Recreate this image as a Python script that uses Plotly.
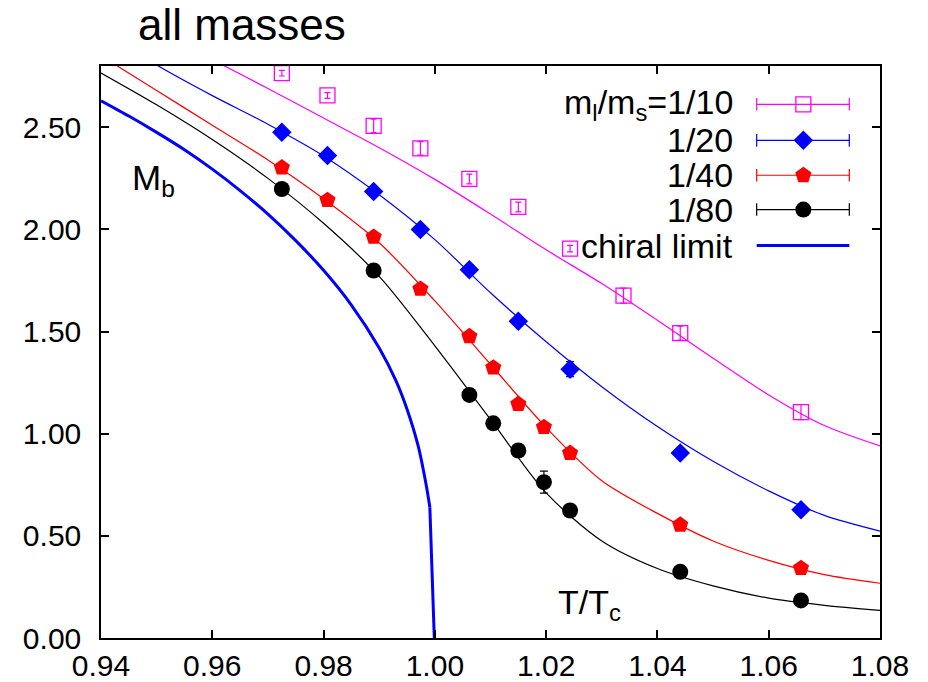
import plotly.graph_objects as go

# ---------------- data ----------------
T10 = [0.9725, 0.9807, 0.9890, 0.9974, 1.0062, 1.0150, 1.0243, 1.0339, 1.0441, 1.0658]
M10 = [2.765, 2.656, 2.507, 2.397, 2.247, 2.110, 1.906, 1.676, 1.492, 1.106]
E10 = [0.014, 0.014, 0.033, 0.033, 0.024, 0.024, 0.016, 0.037, 0.034, 0.037]

T20 = [0.9725, 0.9807, 0.9890, 0.9974, 1.0062, 1.0150, 1.0243, 1.0441, 1.0658]
M20 = [2.476, 2.362, 2.186, 2.000, 1.803, 1.551, 1.316, 0.905, 0.628]
E20 = [0.010, 0.020, 0.010, 0.015, 0.025, 0.020, 0.037, 0.010, 0.010]

T40 = [0.9725, 0.9807, 0.9890, 0.9974, 1.0062, 1.0105, 1.0150, 1.0196, 1.0243, 1.0441, 1.0658]
M40 = [2.303, 2.143, 1.963, 1.709, 1.477, 1.323, 1.145, 1.032, 0.905, 0.554, 0.342]
E40 = [0.010, 0.020, 0.010, 0.020, 0.010, 0.015, 0.010, 0.010, 0.010, 0.010, 0.010]

T80 = [0.9725, 0.9890, 1.0062, 1.0105, 1.0150, 1.0196, 1.0243, 1.0441, 1.0658]
M80 = [2.198, 1.799, 1.190, 1.051, 0.918, 0.763, 0.624, 0.324, 0.184]
E80 = [0.010, 0.010, 0.010, 0.010, 0.010, 0.054, 0.010, 0.010, 0.010]

# fit curves
TFIT = [0.94, 0.95, 0.96, 0.97, 0.98, 0.99, 1.00, 1.01, 1.02, 1.03, 1.04, 1.05, 1.06, 1.07, 1.08]
FIT10 = [3.10, 2.96, 2.83, 2.69, 2.545, 2.40, 2.245, 2.075, 1.90, 1.735, 1.555, 1.37, 1.19, 1.04, 0.94]
FIT20 = [2.98, 2.805, 2.655, 2.515, 2.36, 2.17, 1.95, 1.69, 1.45, 1.23, 1.035, 0.865, 0.72, 0.60, 0.523]
FIT40 = [2.85, 2.68, 2.51, 2.34, 2.15, 1.935, 1.65, 1.34, 1.03, 0.77, 0.61, 0.475, 0.38, 0.31, 0.268]
FIT80 = [2.766, 2.61, 2.44, 2.25, 2.03, 1.77, 1.43, 1.07, 0.71, 0.475, 0.34, 0.255, 0.195, 0.16, 0.135]

# chiral limit curve
TCH = [0.940, 0.945, 0.950, 0.955, 0.960, 0.965, 0.970, 0.975, 0.980, 0.985,
       0.990, 0.993, 0.995, 0.997, 0.9985, 0.9991]
MCH = [2.63, 2.555, 2.475, 2.39, 2.295, 2.19, 2.075, 1.945, 1.80, 1.63,
       1.42, 1.26, 1.12, 0.94, 0.74, 0.64]
TCH_END = [0.9991, 0.9999]
MCH_END = [0.64, 0.00]

XTICKS = [0.94, 0.96, 0.98, 1.00, 1.02, 1.04, 1.06, 1.08]
YTICKS = [0.0, 0.5, 1.0, 1.5, 2.0, 2.5]

LABELS = ["m<sub>l</sub>/m<sub>s</sub>=1/10", "1/20", "1/40", "1/80", "chiral limit"]

MAGENTA = "#ff00ff"
BLUE = "#0000ff"
RED = "#ff0000"
BLACK = "#000000"
FONT = "Liberation Sans, Arial, Helvetica, sans-serif"

fig = go.Figure()

# fit lines
for fit, col in [(FIT10, MAGENTA), (FIT20, BLUE), (FIT40, RED), (FIT80, BLACK)]:
    fig.add_trace(go.Scatter(x=TFIT, y=fit, mode="lines",
                             line=dict(color=col, width=1.2, shape="spline", smoothing=0.8),
                             hoverinfo="skip"))

# chiral limit
fig.add_trace(go.Scatter(x=TCH, y=MCH, mode="lines",
                         line=dict(color=BLUE, width=3, shape="spline", smoothing=0.7),
                         hoverinfo="skip"))
fig.add_trace(go.Scatter(x=TCH_END, y=MCH_END, mode="lines",
                         line=dict(color=BLUE, width=3), hoverinfo="skip"))

# data points
series = [
    (T10, M10, E10, MAGENTA, dict(symbol="square-open", size=15, color=MAGENTA, line=dict(width=1.3, color=MAGENTA)), 3),
    (T20, M20, E20, BLUE, dict(symbol="diamond", size=15, color=BLUE), 4),
    (T40, M40, E40, RED, dict(symbol="pentagon", size=17, color=RED), 4),
    (T80, M80, E80, BLACK, dict(symbol="circle", size=16, color=BLACK), 4),
]
for t, m, e, col, mk, w in series:
    fig.add_trace(go.Scatter(x=t, y=m, mode="markers", marker=mk,
                             error_y=dict(type="data", array=e, visible=True,
                                          color=col, thickness=1.2, width=w),
                             hoverinfo="skip", cliponaxis=False))

# ---------------- key (gnuplot style, on an overlay axis) ----------------
KX0, KX1, KXM = 0.8417, 0.9606, 0.9016
KROWS = [0.933, 0.870, 0.809, 0.749, 0.686]
key_markers = [series[0][4], series[1][4], series[2][4], series[3][4]]
key_cols = [MAGENTA, BLUE, RED, BLACK]
for i in range(4):
    yr = KROWS[i]
    fig.add_trace(go.Scatter(x=[KX0, KX1], y=[yr, yr], mode="lines+markers",
                             line=dict(color=key_cols[i], width=1.2),
                             marker=dict(symbol="line-ns", size=9, color=key_cols[i],
                                         line=dict(width=1.2, color=key_cols[i])),
                             xaxis="x2", yaxis="y2", hoverinfo="skip"))
    fig.add_trace(go.Scatter(x=[KXM], y=[yr], mode="markers", marker=key_markers[i],
                             xaxis="x2", yaxis="y2", hoverinfo="skip"))
fig.add_trace(go.Scatter(x=[KX0, KX1], y=[KROWS[4], KROWS[4]], mode="lines",
                         line=dict(color=BLUE, width=3), xaxis="x2", yaxis="y2",
                         hoverinfo="skip"))

annotations = []
for lab, yr in zip(LABELS, KROWS):
    annotations.append(dict(text=lab, x=0.8139, y=yr, xref="paper", yref="paper",
                            xanchor="right", yanchor="middle", showarrow=False,
                            font=dict(size=34, color="black", family=FONT)))

annotations.append(dict(text="M<sub>b</sub>", x=0.037, y=0.800, xref="paper", yref="paper",
                        xanchor="left", yanchor="middle", showarrow=False,
                        font=dict(size=35, color="black", family=FONT)))
annotations.append(dict(text="T/T<sub>c</sub>", x=0.584, y=0.058, xref="paper", yref="paper",
                        xanchor="left", yanchor="middle", showarrow=False,
                        font=dict(size=34, color="black", family=FONT)))
annotations.append(dict(text="all masses", x=0.181, y=1.073, xref="paper", yref="paper",
                        xanchor="center", yanchor="middle", showarrow=False,
                        font=dict(size=44, color="black", family=FONT)))

axis_common = dict(showgrid=False, zeroline=False, showline=True, linecolor="black",
                   linewidth=1.5, mirror="ticks", ticks="inside", ticklen=8,
                   tickwidth=1.5, tickcolor="black", automargin=False,
                   tickfont=dict(size=30, color="black", family=FONT))

fig.update_layout(
    width=928, height=682,
    margin=dict(l=101, r=48, t=66, b=44),
    paper_bgcolor="white", plot_bgcolor="white",
    showlegend=False,
    font=dict(family=FONT, color="black"),
    xaxis=dict(range=[0.94, 1.08], tickvals=XTICKS,
               ticktext=[f"{v:.2f}" for v in XTICKS], **axis_common),
    yaxis=dict(range=[0, 2.8], tickvals=YTICKS,
               ticktext=[f"{v:.2f}" for v in YTICKS], ticklabelstandoff=12, **axis_common),
    xaxis2=dict(overlaying="x", range=[0, 1], visible=False, anchor="y2"),
    yaxis2=dict(overlaying="y", range=[0, 1], visible=False, anchor="x2"),
    annotations=annotations,
)

fig.write_html("out.html")
